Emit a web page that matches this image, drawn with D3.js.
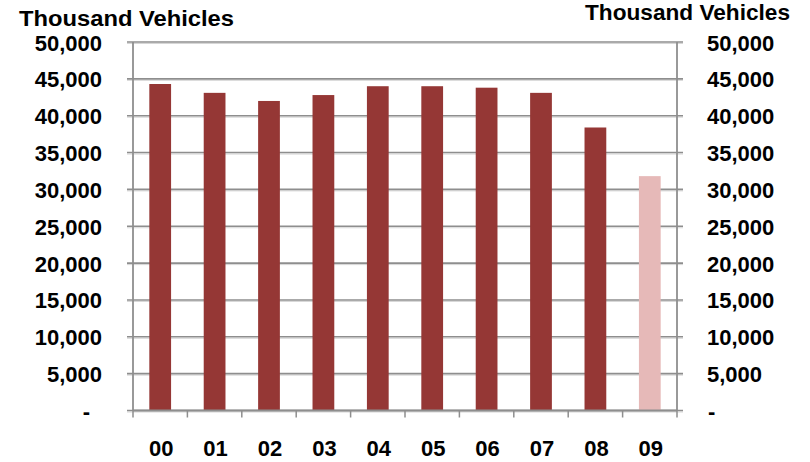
<!DOCTYPE html>
<html><head><meta charset="utf-8">
<script src="https://cdn.jsdelivr.net/npm/d3@7"></script>
<style>
html,body{margin:0;padding:0;background:#fff;}
svg{display:block;font-family:"Liberation Sans",Arial,sans-serif;font-weight:bold;}
</style></head>
<body><svg id="c" width="810" height="462"></svg>
<script>
const categories = ["00","01","02","03","04","05","06","07","08","09"];
const sales = [44300, 43100, 42000, 42800, 44000, 44000, 43800, 43100, 38400, 31800];
const projected = [false,false,false,false,false,false,false,false,false,true];
const yTicks = [0,5000,10000,15000,20000,25000,30000,35000,40000,45000,50000];
const axisTitle = "Thousand Vehicles";

(function(){
const svg = d3.select("#c");
const pL = 133, pR = 677, pT = 42, pB = 410.5;
const x = d3.scaleBand().domain(categories).range([pL, pR]).paddingInner(0.6).paddingOuter(0.3);
const xb = d3.scaleBand().domain(categories).range([pL, pR]);
const y = d3.scaleLinear().domain([0, 50000]).range([pB, pT]);
const fmt = v => v === 0 ? "-" : d3.format(",")(v);
const gridCol = "#8e8e8e";

// gridlines with soft shadow
const g = svg.append("g");
g.selectAll("line.sh").data(yTicks).join("line").attr("class","sh")
  .attr("x1", pL - 6).attr("x2", pR + 6)
  .attr("y1", d => y(d) + 1.5).attr("y2", d => y(d) + 1.5)
  .attr("stroke", "#d6d6d6").attr("stroke-width", 1);
g.selectAll("line.gl").data(yTicks).join("line").attr("class","gl")
  .attr("x1", pL - 6).attr("x2", pR + 6)
  .attr("y1", d => y(d)).attr("y2", d => y(d))
  .attr("stroke", gridCol).attr("stroke-width", 1.6);

// bars
svg.append("g").selectAll("rect").data(categories).join("rect")
  .attr("x", d => x(d))
  .attr("width", x.bandwidth())
  .attr("y", (d,i) => y(sales[i]))
  .attr("height", (d,i) => y(0) - y(sales[i]))
  .attr("fill", (d,i) => projected[i] ? "#E6B9B8" : "#953735");

// vertical axes
[pL, pR].forEach(xx => {
  svg.append("line").attr("x1", xx).attr("x2", xx).attr("y1", pT).attr("y2", pB)
    .attr("stroke", gridCol).attr("stroke-width", 1.8);
});
// x axis line and ticks
svg.append("line").attr("x1", pL).attr("x2", pR).attr("y1", pB).attr("y2", pB)
  .attr("stroke", gridCol).attr("stroke-width", 1.8);
const bounds = categories.map(c => xb(c)).concat([pR]);
svg.append("g").selectAll("line").data(bounds).join("line")
  .attr("x1", d => d).attr("x2", d => d).attr("y1", pB).attr("y2", pB + 7)
  .attr("stroke", gridCol).attr("stroke-width", 1.5);

// y labels
const fs = 22;
svg.append("g").selectAll("text").data(yTicks).join("text")
  .attr("x", d => d === 0 ? 90 : 102).attr("y", d => y(d) + 8.5)
  .attr("text-anchor", "end").attr("font-size", fs).attr("fill", "#000")
  .text(fmt);
svg.append("g").selectAll("text").data(yTicks).join("text")
  .attr("x", d => d === 0 ? 708 : 707).attr("y", d => y(d) + 8.5)
  .attr("text-anchor", "start").attr("font-size", fs).attr("fill", "#000")
  .text(fmt);

// x labels
svg.append("g").selectAll("text").data(categories).join("text")
  .attr("x", d => xb(d) + xb.bandwidth()/2 + 1).attr("y", 456)
  .attr("text-anchor", "middle").attr("font-size", fs).attr("fill", "#000")
  .text(d => d);

// axis titles
svg.append("text").attr("x", 19).attr("y", 25.5).attr("font-size", fs).attr("fill", "#000")
  .attr("textLength", 215).attr("lengthAdjust", "spacingAndGlyphs").text(axisTitle);
svg.append("text").attr("x", 585).attr("y", 19.5).attr("font-size", fs).attr("fill", "#000")
  .attr("textLength", 205).attr("lengthAdjust", "spacingAndGlyphs").text(axisTitle);
})();
</script></body></html>
